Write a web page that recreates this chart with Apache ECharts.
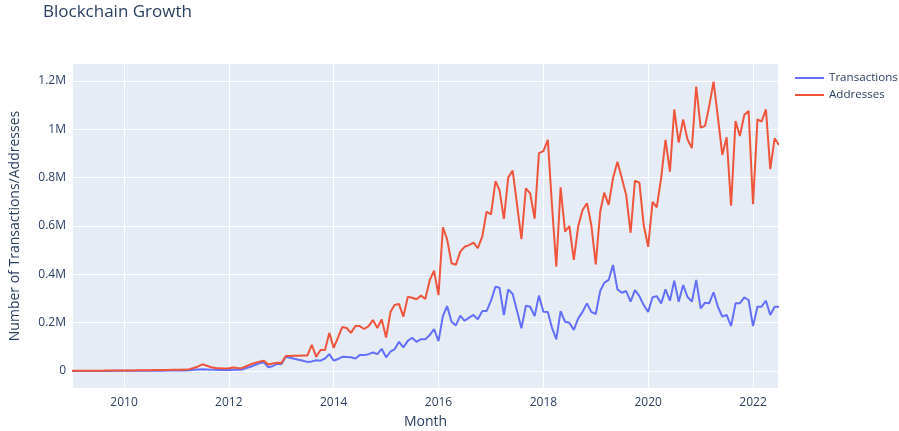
<!DOCTYPE html>
<html>
<head>
    <meta charset="utf-8">
    <title>Blockchain Growth</title>
    <script src="https://cdn.jsdelivr.net/npm/echarts@6/dist/echarts.min.js"></script>
    <style>
        html, body { margin: 0; padding: 0; background: #fff; }
        #main { width: 899px; height: 431px; }
    </style>
</head>
<body>
<div id="main"></div>
<script type="text/javascript">
    // monthly data, first month Jan 2009
    var startYear = 2009, startMonth = 0;

    var transactions = [
        300, 400, 500, 500, 600, 600, 700, 700, 800, 800, 900, 900,
        1000, 1000, 1100, 1200, 1300, 1400, 1500, 1600, 1700, 1800, 1900, 2000,
        2100, 2200, 2500,
        3000, 5000, 7000, 8000, 7000, 6000, 5000, 4000, 4000,
        4000, 5000, 5000, 6000, 12000, 18000, 25000, 32000, 36000,
        16000, 20000, 30000, 28000, 59000, 55000, 51000, 47000, 43000, 38000,
        40000, 45000, 43000, 52000, 70000, 43000, 50000, 59000,
        58000, 57000, 52000, 66000, 66000, 70000, 77000, 70000, 92000, 57000,
        81000, 90000, 121000, 98000, 125000, 138000, 121000, 132000, 132000, 149000, 174000, 124000,
        228000, 269000, 204000, 189000, 229000, 208000, 221000, 232000, 214000, 248000,
        248000, 291000, 349000, 345000, 232000, 338000, 319000, 250000, 177000, 270000,
        266000, 228000, 312000, 245000, 244000, 181000, 131000, 248000, 204000, 200000,
        170000, 218000, 245000, 280000, 245000, 236000, 331000, 365000, 377000, 439000,
        338000, 324000, 331000, 287000, 335000, 310000, 273000, 245000, 305000, 310000,
        280000, 338000, 291000, 374000, 287000, 356000, 307000, 287000, 377000, 259000,
        283000, 280000, 326000, 266000, 225000, 232000, 186000, 280000, 280000, 305000,
        294000, 186000, 266000, 266000, 291000, 232000, 266000, 266000
    ];

    var addresses = [
        1000, 1000, 1200, 1300, 1500, 1500, 1700, 1800, 2000, 2000, 2200, 2300,
        2500, 2600, 2800, 3000, 3200, 3500, 3800, 4000, 4200, 4500, 4800, 5000,
        5200, 5500, 6000,
        8000, 13000, 19000, 28000, 22000, 16000, 13000, 12000, 11000,
        12000, 15000, 13000, 12000, 20000, 28000, 34000, 39000, 43000,
        27000, 31000, 34000, 33000, 62000, 62000, 63000, 63000, 64000, 64000,
        108000, 59000, 87000, 87000, 158000, 96000, 140000, 182000,
        178000, 158000, 186000, 186000, 174000, 186000, 211000, 178000, 214000, 139000,
        245000, 273000, 277000, 225000, 307000, 303000, 297000, 312000, 298000, 376000, 415000, 314000,
        595000, 545000, 446000, 439000, 494000, 514000, 521000, 531000, 508000, 556000,
        659000, 648000, 785000, 749000, 629000, 800000, 829000, 690000, 546000, 756000,
        735000, 630000, 901000, 910000, 956000, 694000, 432000, 760000, 577000, 600000,
        460000, 600000, 666000, 694000, 604000, 441000, 659000, 738000, 687000, 797000,
        866000, 800000, 728000, 572000, 787000, 779000, 604000, 514000, 700000, 677000,
        800000, 956000, 825000, 1082000, 945000, 1041000, 959000, 922000, 1177000, 1007000,
        1014000, 1094000, 1197000, 1050000, 894000, 967000, 684000, 1034000, 972000, 1059000,
        1076000, 690000, 1041000, 1032000, 1082000, 835000, 963000, 935000
    ];

    var xTickYears = [2010, 2012, 2014, 2016, 2018, 2020, 2022];
    var yTicks = [0, 200000, 400000, 600000, 800000, 1000000, 1200000];
    var yTickLabels = ['0', '0.2M', '0.4M', '0.6M', '0.8M', '1M', '1.2M'];

    var months = [];
    for (var i = 0; i < addresses.length; i++) {
        months.push(new Date(startYear, startMonth + i, 1).getTime());
    }
    var xTicks = xTickYears.map(function (y) { return new Date(y, 0, 1).getTime(); });

    function pairs(vals) {
        return vals.map(function (v, i) { return [months[i], v]; });
    }

    var fontColor = '#2a3f5f';
    var myChart = echarts.init(document.getElementById('main'), null, {renderer: 'canvas'});

    var option = {
        animation: false,
        backgroundColor: '#fff',
        textStyle: { fontFamily: 'Open Sans' },
        title: {
            text: 'Blockchain Growth',
            left: 43,
            top: 4,
            padding: 0,
            textStyle: { fontSize: 17, fontWeight: 'normal', color: fontColor, fontFamily: 'Open Sans' }
        },
        legend: {
            data: ['Transactions', 'Addresses'],
            orient: 'vertical',
            left: 795,
            top: 72,
            padding: 0,
            width: 104,
            icon: 'rect',
            itemWidth: 29,
            itemHeight: 2,
            itemGap: 5,
            textStyle: { fontSize: 11.6, color: fontColor, fontFamily: 'Open Sans', overflow: 'none' }
        },
        grid: {
            left: 73,
            right: 121,
            top: 64,
            bottom: 43,
            show: true,
            backgroundColor: '#E5ECF6',
            borderWidth: 0,
            outerBoundsMode: 'none'
        },
        xAxis: {
            type: 'value',
            min: new Date(2009, 0, 10).getTime(),
            max: new Date(2022, 5, 24).getTime(),
            name: 'Month',
            nameLocation: 'middle',
            nameGap: 27,
            nameTextStyle: { fontSize: 14, color: fontColor, fontFamily: 'Open Sans' },
            axisLine: { show: false },
            axisTick: { show: false, customValues: xTicks },
            axisLabel: {
                customValues: xTicks,
                color: fontColor,
                fontSize: 12,
                margin: 9,
                formatter: function (v) { return String(new Date(v).getFullYear()); }
            },
            splitLine: { show: true, customValues: xTicks, lineStyle: { color: '#fff', width: 1 } }
        },
        yAxis: {
            type: 'value',
            min: -70000,
            max: 1270000,
            name: 'Number of Transactions/Addresses',
            nameLocation: 'middle',
            nameGap: 51,
            nameTextStyle: { fontSize: 14, color: fontColor, fontFamily: 'Open Sans' },
            axisLine: { show: false },
            axisTick: { show: false, customValues: yTicks },
            axisLabel: {
                customValues: yTicks,
                color: fontColor,
                fontSize: 12,
                margin: 7,
                formatter: function (v) {
                    var idx = yTicks.indexOf(v);
                    return idx >= 0 ? yTickLabels[idx] : '';
                }
            },
            splitLine: { show: true, customValues: yTicks, lineStyle: { color: '#fff', width: 1 } }
        },
        series: [{
            name: 'Transactions',
            type: 'line',
            data: pairs(transactions),
            showSymbol: false,
            color: '#636efa',
            lineStyle: { width: 2, color: '#636efa' }
        }, {
            name: 'Addresses',
            type: 'line',
            data: pairs(addresses),
            showSymbol: false,
            color: '#EF553B',
            lineStyle: { width: 2, color: '#EF553B' }
        }]
    };
    myChart.setOption(option);
</script>
</body>
</html>
